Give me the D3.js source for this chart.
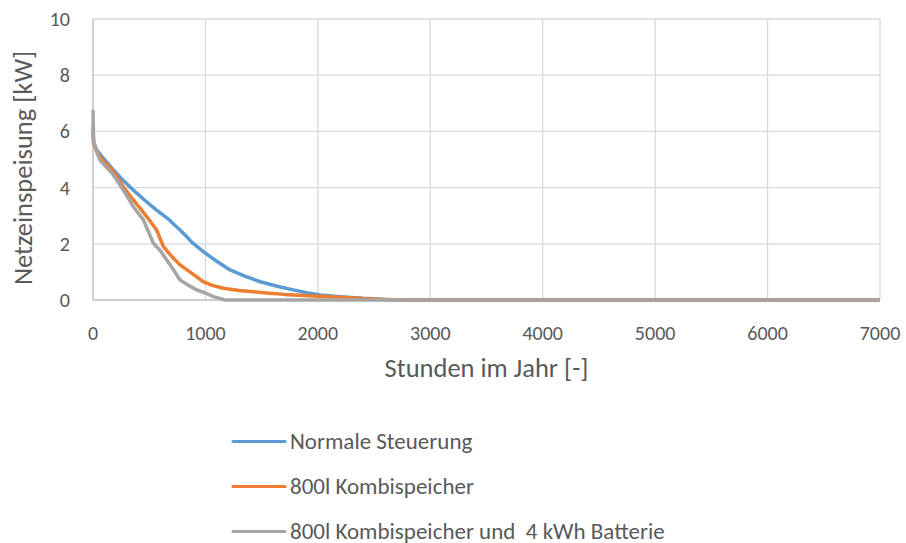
<!DOCTYPE html>
<html><head><meta charset="utf-8">
<script src="https://cdn.jsdelivr.net/npm/d3@7"></script>
<style>
body{margin:0;background:#fff;}
text{font-family:Carlito,Lato,"Open Sans",sans-serif;fill:#595959;}
</style></head>
<body><svg id="c" width="906" height="543"></svg>
<script>
const xTicks=[0,1000,2000,3000,4000,5000,6000,7000];
const yTicks=[0,2,4,6,8,10];
const xTitle="Stunden im Jahr [-]";
const yTitle="Netzeinspeisung [kW]";
const seriesNames=["Normale Steuerung","800l Kombispeicher","800l Kombispeicher und  4 kWh Batterie"];
const seriesColors=["#5B9BD5","#ED7D31","#A5A5A5"];
const blueHours=[0,5,30,80,181,270,359,460,566,680,730,774,830,880,981,1100,1219,1350,1486,1630,1782,1900,2019,2198,2400,2600,2800,7000];
const blueValues=[6.0,5.6,5.35,5.1,4.63,4.25,3.91,3.55,3.2,2.85,2.65,2.49,2.27,2.05,1.72,1.38,1.07,0.85,0.65,0.5,0.36,0.26,0.18,0.12,0.06,0.02,0,0];
const orangeHours=[0,5,30,80,181,270,359,478,566,626,700,774,880,981,1060,1160,1300,1515,1700,1960,2198,2400,2600,2800,7000];
const orangeValues=[6.2,5.6,5.3,5.0,4.57,4.03,3.56,2.97,2.49,1.9,1.55,1.25,0.95,0.65,0.52,0.42,0.34,0.26,0.2,0.14,0.1,0.05,0.02,0,0];
const grayHours=[0,5,30,62,181,270,359,448,537,600,656,720,774,850,922,1000,1071,1175,7000];
const grayValues=[6.76,5.69,5.3,4.98,4.45,3.91,3.32,2.85,2.02,1.75,1.42,1.05,0.71,0.52,0.36,0.25,0.12,0,0];

const series=[[blueHours,blueValues],[orangeHours,orangeValues],[grayHours,grayValues]];
const svg=d3.select("#c");
const x=d3.scaleLinear().domain([0,7000]).range([93,880]);
const y=d3.scaleLinear().domain([0,10]).range([300,19]);

// grid
svg.append("g").selectAll("line").data(yTicks.filter(d=>d>0)).join("line")
 .attr("x1",x(0)).attr("x2",x(7000)).attr("y1",d=>y(d)).attr("y2",d=>y(d))
 .attr("stroke","#D9D9D9").attr("stroke-width",1.3);
svg.append("g").selectAll("line").data(xTicks.filter(d=>d>0)).join("line")
 .attr("x1",d=>x(d)).attr("x2",d=>x(d)).attr("y1",y(0)).attr("y2",y(10))
 .attr("stroke","#D9D9D9").attr("stroke-width",1.3);
// axis lines
svg.append("line").attr("x1",x(0)).attr("x2",x(0)).attr("y1",y(0)).attr("y2",y(10)).attr("stroke","#BFBFBF").attr("stroke-width",1.5);
svg.append("line").attr("x1",x(0)).attr("x2",x(7000)).attr("y1",y(0)).attr("y2",y(0)).attr("stroke","#BFBFBF").attr("stroke-width",1.5);

// tick labels
svg.append("g").selectAll("text").data(yTicks).join("text")
 .attr("x",70).attr("y",d=>y(d)+7).attr("text-anchor","end")
 .style("font-size","20px").text(d=>d);
svg.append("g").selectAll("text").data(xTicks).join("text")
 .attr("x",d=>x(d)).attr("y",340).attr("text-anchor","middle")
 .style("font-size","20px").text(d=>d);
// titles
svg.append("text").attr("x",(x(0)+x(7000))/2).attr("y",377).attr("text-anchor","middle")
 .style("font-size","26.5px").text(xTitle);
svg.append("text").attr("transform","translate(32,168) rotate(-90)").attr("text-anchor","middle")
 .style("font-size","26.5px").text(yTitle);

// lines
const line=d3.line().x(d=>x(d[0])).y(d=>y(d[1]));
series.forEach((s,i)=>{
  const pts=s[0].map((h,j)=>[h,s[1][j]]);
  svg.append("path").datum(pts).attr("d",line).attr("fill","none")
   .attr("stroke",seriesColors[i]).attr("stroke-width",3.5).attr("stroke-linejoin","round");
});

// legend
const lg=svg.append("g").selectAll("g").data(seriesNames).join("g")
 .attr("transform",(d,i)=>`translate(233,${441.5+i*45})`);
lg.append("line").attr("x1",0).attr("x2",52).attr("stroke",(d,i)=>seriesColors[i]).attr("stroke-width",3.2).attr("stroke-linecap","round");
lg.append("text").attr("x",57).attr("y",7).style("font-size","23px").attr("xml:space","preserve").text(d=>d);
</script></body></html>
